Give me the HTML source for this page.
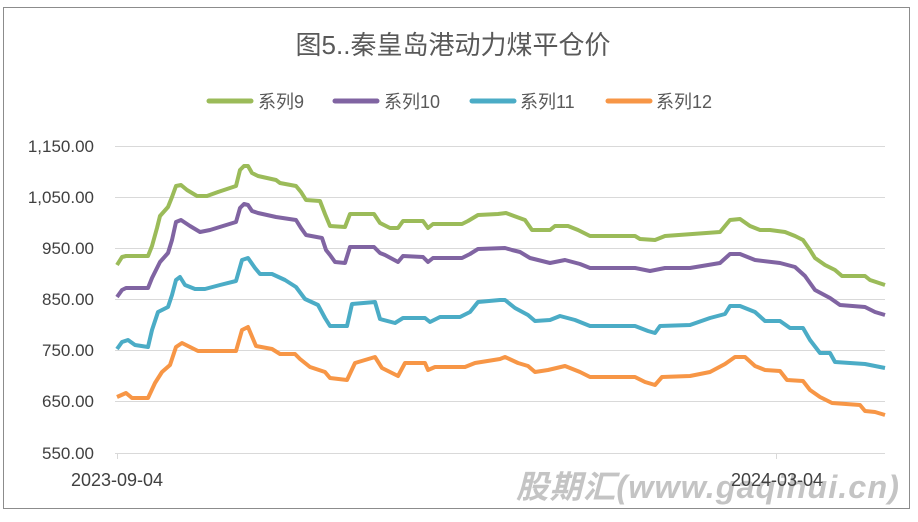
<!DOCTYPE html>
<html><head><meta charset="utf-8"><style>
body{margin:0;background:#fff;width:918px;height:517px;overflow:hidden}
svg text{font-family:"Liberation Sans","Noto Sans CJK SC",sans-serif}
</style></head><body>
<svg width="918" height="517" xmlns="http://www.w3.org/2000/svg">
<rect x="3.5" y="7.5" width="906" height="501" fill="#fff" stroke="#8c8c8c"/>
<text x="453" y="54" font-size="26" fill="#595959" text-anchor="middle" font-family="Noto Sans CJK SC,sans-serif">图5..秦皇岛港动力煤平仓价</text>
<g stroke-width="5" stroke-linecap="round">
<line x1="209" y1="101" x2="251" y2="101" stroke="#9bbb59"/>
<line x1="335" y1="101" x2="377" y2="101" stroke="#8064a2"/>
<line x1="472" y1="101" x2="514" y2="101" stroke="#4bacc6"/>
<line x1="608" y1="101" x2="650" y2="101" stroke="#f79646"/>
</g>
<g font-size="18" fill="#595959">
<text x="258" y="108">系列9</text><text x="384" y="108">系列10</text><text x="520" y="108">系列11</text><text x="656" y="108">系列12</text>
</g>
<g stroke="#d9d9d9" stroke-width="1">
<line x1="115" y1="146.5" x2="885" y2="146.5"/><line x1="115" y1="197.5" x2="885" y2="197.5"/>
<line x1="115" y1="248.5" x2="885" y2="248.5"/><line x1="115" y1="299.5" x2="885" y2="299.5"/>
<line x1="115" y1="350.5" x2="885" y2="350.5"/><line x1="115" y1="401.5" x2="885" y2="401.5"/>
<line x1="115" y1="453.5" x2="885" y2="453.5"/>
<line x1="117.5" y1="453" x2="117.5" y2="459"/><line x1="776.5" y1="453" x2="776.5" y2="459"/>
</g>
<g font-size="17" fill="#404040" text-anchor="end">
<text x="94" y="152">1,150.00</text><text x="94" y="203">1,050.00</text><text x="94" y="254">950.00</text>
<text x="94" y="305">850.00</text><text x="94" y="356">750.00</text><text x="94" y="407">650.00</text><text x="94" y="459">550.00</text>
</g>
<g fill="none" stroke-width="4" stroke-linejoin="round">
<polyline stroke="#9bbb59" points="117,265 122,257 126,256 148,256 152,246 157,228 160,216 168,207 172,197 176,186 181,185 187,190 197,196 207,196 218,192 236,186 240,170 244,166 248,166 252,173 258,176 276,180 280,183 296,186 301,192 306,200 320,201 325,214 330,226 345,227 350,214 374,214 380,223 390,228 398,228 403,221 423,221 428,228 433,224 462,224 468,221 478,215 498,214 506,213 514,216 525,220 532,230 550,230 555,226 568,226 578,230 590,236 635,236 640,239 655,240 665,236 720,232 730,220 740,219 750,226 760,230 770,230 785,232 795,236 803,240 810,250 815,258 825,265 835,270 842,276 865,276 870,280 885,285"/>
<polyline stroke="#8064a2" points="117,297 122,290 126,288 148,288 152,278 160,262 168,253 172,240 176,222 181,220 190,226 200,232 210,230 236,222 240,208 244,204 248,205 252,211 258,213 276,217 296,220 301,228 306,235 322,238 326,250 330,255 335,262 345,263 350,247 374,247 380,253 385,255 398,262 403,256 423,257 428,262 433,258 462,258 470,254 478,249 505,248 512,250 520,252 530,258 550,263 565,260 580,264 590,268 635,268 650,271 665,268 690,268 720,263 730,254 740,254 755,260 780,263 795,267 805,276 815,290 830,298 840,305 865,307 875,312 885,315"/>
<polyline stroke="#4bacc6" points="117,349 122,342 128,340 135,345 148,347 152,330 158,312 168,307 172,295 176,280 180,277 185,285 195,289 205,289 220,285 236,281 242,260 248,258 255,268 260,274 272,274 285,280 296,287 305,299 318,305 325,318 330,326 347,326 352,304 375,302 380,319 395,323 403,318 425,318 430,322 440,317 460,317 470,312 478,302 500,300 505,300 515,308 528,315 535,321 550,320 560,316 575,320 590,326 635,326 648,331 655,333 660,326 690,325 710,318 725,314 730,306 740,306 755,312 765,321 780,321 790,328 803,328 810,340 820,353 830,353 835,362 865,364 875,366 885,368"/>
<polyline stroke="#f79646" points="117,397 126,393 132,398 148,398 155,383 162,372 170,365 176,347 182,343 190,347 198,351 236,351 242,330 248,327 256,346 272,349 280,354 295,354 300,359 310,367 325,372 330,378 347,380 355,363 375,357 382,368 390,372 398,376 405,363 425,363 428,370 435,367 465,367 475,363 500,359 505,357 518,363 528,366 535,372 548,370 565,366 580,372 590,377 635,377 645,382 655,385 662,377 690,376 710,372 725,364 735,357 745,357 755,366 765,370 780,371 787,380 803,381 810,390 820,397 832,403 860,405 865,411 875,412 885,415"/>
</g>
<text x="516" y="498" font-size="32" font-weight="bold" font-style="italic" fill="#c4c4c4" letter-spacing="1" textLength="384" lengthAdjust="spacingAndGlyphs" font-family="Liberation Sans,Noto Sans CJK SC,sans-serif">股期汇(www.gaqihui.cn)</text>
<g font-size="18" fill="#404040" text-anchor="middle">
<text x="117" y="486">2023-09-04</text><text x="777" y="486">2024-03-04</text>
</g>
</svg>
</body></html>
